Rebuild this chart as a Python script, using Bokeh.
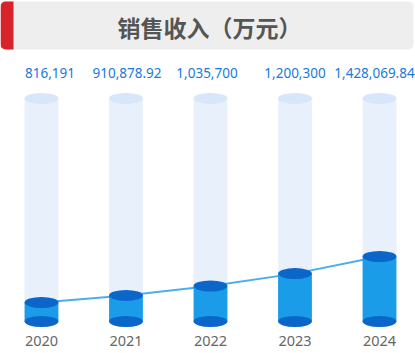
from bokeh.plotting import figure
from bokeh.models import ColumnDataSource, Range1d, Label, BoxAnnotation
from bokeh.embed import file_html
from bokeh.resources import INLINE
from bokeh.core.properties import value

years = ["2020", "2021", "2022", "2023", "2024"]
sales = [816191, 910878.92, 1035700, 1200300, 1428069.84]
sales_labels = ["816,191", "910,878.92", "1,035,700", "1,200,300", "1,428,069.84"]
title_text = "销售收入（万元）"

# layout constants
BASE = 563461
BG_MAX = 3530000
BAR_W = 0.40
LABEL_DX = [8.5, 1, -3.5, 0, -5]

xs = list(range(len(years)))
src = ColumnDataSource(dict(
    x=xs, top=sales, base=[BASE] * len(xs), bg=[BG_MAX] * len(xs),
    lab=sales_labels, yr=years, dx=LABEL_DX,
))

p = figure(width=415, height=353, output_backend="svg", toolbar_location=None,
           x_range=Range1d(-0.485, 4.426), y_range=Range1d(137816, 4833214),
           min_border=0, outline_line_color=None, background_fill_color="white",
           border_fill_color="white")
p.axis.visible = False
p.grid.visible = False

# header
p.add_layout(BoxAnnotation(left=0, right=413, top=352, bottom=304,
                           left_units="screen", right_units="screen",
                           top_units="screen", bottom_units="screen",
                           fill_color="#eeeeee", fill_alpha=1, line_color=None,
                           border_radius=5))
p.add_layout(BoxAnnotation(left=0, right=13, top=352, bottom=304,
                           left_units="screen", right_units="screen",
                           top_units="screen", bottom_units="screen",
                           fill_color="#d9232b", fill_alpha=1, line_color=None,
                           border_radius=dict(top_left=5, bottom_left=5, top_right=0, bottom_right=0)))
p.add_layout(Label(x=209, y=327, x_units="screen", y_units="screen", text=title_text,
                   text_align="center", text_baseline="middle",
                   text_font="Noto Sans CJK SC", text_font_style="bold",
                   text_font_size="23px", text_color="#555555"))

# background cylinders
p.vbar(x="x", bottom="base", top="bg", width=BAR_W, source=src,
       fill_color="#e8f0fc", line_color=None)
p.ellipse(x="x", y="bg", width=BAR_W, height=11, height_units="screen", source=src,
          fill_color="#d7e6fa", line_color=None)

# trend line
p.line(x="x", y="top", source=src, line_color="#4aaeee", line_width=2)

# front cylinders
p.vbar(x="x", bottom="base", top="top", width=BAR_W, source=src,
       fill_color="#1a9ce8", line_color=None)
p.ellipse(x="x", y="base", width=BAR_W, height=11, height_units="screen", source=src,
          fill_color="#0a66c8", line_color=None)
p.ellipse(x="x", y="top", width=BAR_W, height=11, height_units="screen", source=src,
          fill_color="#0a66c8", line_color=None)

# value labels
p.text(x="x", y=BG_MAX, text="lab", source=src, y_offset=-25, x_offset="dx",
       text_align="center", text_baseline="middle",
       text_font=value("Noto Sans"), text_font_size="13.5px", text_color="#1a7ad9")
# year labels
p.text(x="x", y=BASE, text="yr", source=src, y_offset=19,
       text_align="center", text_baseline="middle",
       text_font=value("Noto Sans"), text_font_size="14.5px", text_color="#666666")

open("out.html", "w").write(file_html(p, INLINE))
